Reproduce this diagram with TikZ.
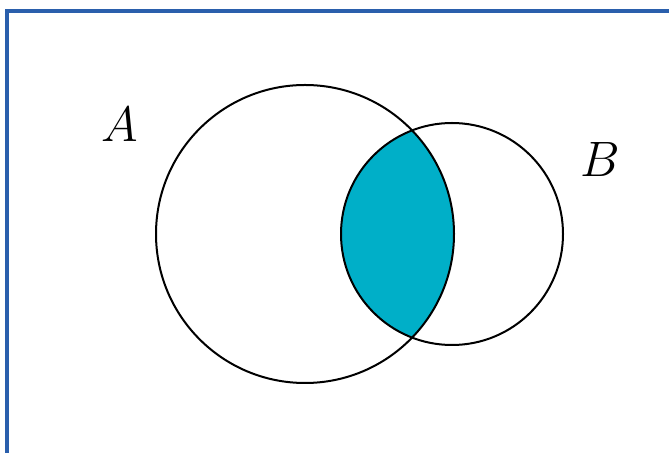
\documentclass[tikz,border=0pt]{standalone}
\usetikzlibrary{positioning}
\definecolor{framecolor}{HTML}{2A5FAC}
\definecolor{lenscolor}{HTML}{00AFC8}

\begin{document}
\begin{tikzpicture}[
    x=0.5pt,
    y=-0.5pt,
    line width=1pt,
    font=\Huge
]

    % Canvas
    \useasboundingbox (0, 0) rectangle (669, 453);
    \fill[white] (0, 0) rectangle (669, 453);

    % Frame (top and left edges)
    \fill[framecolor] (5, 9) rectangle (669, 13);
    \fill[framecolor] (5, 9) rectangle (9, 453);

    % Circle centres
    \coordinate (Apos) at (305, 234);
    \coordinate (Bpos) at (452, 234);

    % Intersection A and B
    \begin{scope}
        \clip (Apos) circle (149);
        \fill[lenscolor] (Bpos) circle (111);
    \end{scope}

    % Sets
    \draw[black] (Apos) circle (149);
    \draw[black] (Bpos) circle (111);

    % Labels
    \node (labelA) at (120, 125) {$A$};
    \node (labelB) at (600, 160) {$B$};

\end{tikzpicture}
\end{document}
